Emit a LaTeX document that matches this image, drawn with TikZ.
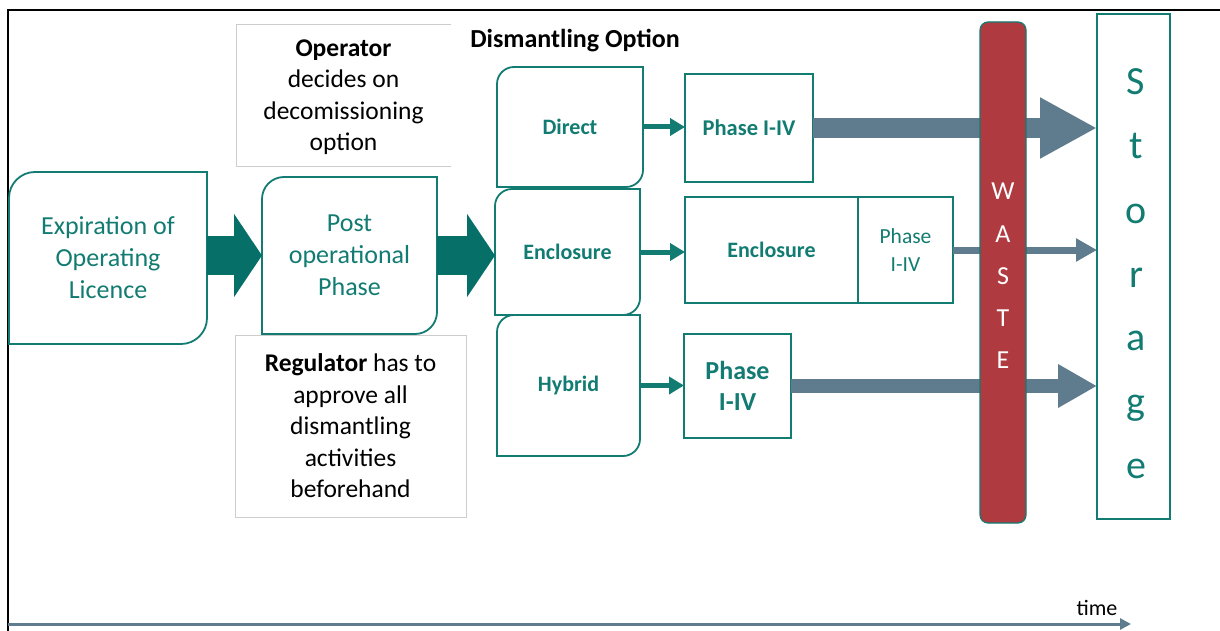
\documentclass[tikz,border=0pt]{standalone}
\usepackage{fontspec}
\setmainfont{Carlito}
\usetikzlibrary{arrows.meta,calc}
\definecolor{tealc}{RGB}{18,124,114}
\definecolor{bigteal}{RGB}{6,112,104}
\definecolor{grayblue}{RGB}{95,123,142}
\definecolor{wastered}{RGB}{175,58,64}
\definecolor{lightgraybox}{RGB}{205,205,205}
\newcommand\fsz[2]{\fontsize{#1}{#2}\selectfont}
\newcommand\halfround[2]{\draw[tealc, line width=1.8pt] (#1.west) [rounded corners=#2] |- (#1.north) [sharp corners] -| (#1.east) [rounded corners=#2] |- (#1.south) [sharp corners] -| (#1.west);}
\begin{document}
\begin{tikzpicture}[x=1pt,y=-1pt,
  every node/.style={inner sep=0pt, outer sep=0pt},
  blk/.style={anchor=north west},
  optbox/.style={anchor=north west, text=tealc, align=center},
  phbox/.style={anchor=north west, draw=tealc, line width=1.8pt, text=tealc, align=center},
  bigarrow/.style={bigteal, line width=39pt, -{Triangle[length=28pt,width=82pt]}},
  smallarrow/.style={tealc, line width=5pt, -{Triangle[length=15pt,width=17pt]}},
  grayarrow/.style={grayblue, line width=#1},
  gbox/.style={draw=lightgraybox, line width=0.9pt}]
\useasboundingbox (0,0) rectangle (1220,631);
\fill[white] (0,0) rectangle (1220,631);

% frame
\draw[black, line width=2pt] (8,631) -- (8,10) -- (1220,10);

% grey note boxes
\node[blk, minimum width=215pt, minimum height=142pt] (opbox) at (236,24) {};
\draw[gbox] (opbox.north east) -- (opbox.north west) -- (opbox.south west) -- (opbox.south east);
\node[font=\fsz{25.5}{31.5}, align=center] (optext) at (343.5,97) {\textbf{Operator}\\decides on\\decomissioning\\option};
\node[blk, gbox, minimum width=231pt, minimum height=182pt] (regbox) at (235,335) {};
\node[font=\fsz{25.5}{31.5}, align=center] (regtext) at (350.5,426) {\textbf{Regulator} has to\\approve all\\dismantling\\activities\\beforehand};

\node[anchor=base, font=\fsz{26}{30}\bfseries] (dismt) at (575,48) {Dismantling Option};

% main boxes
\node[optbox, font=\fsz{26}{32}, minimum width=198pt, minimum height=172pt] (exp) at (9,172) {Expiration of\\Operating\\Licence};
\halfround{exp}{26pt}
\node[optbox, font=\fsz{26}{32}, minimum width=175pt, minimum height=157pt] (post) at (262,177) {Post\\operational\\Phase};
\halfround{post}{22pt}

\node[optbox, font=\fsz{22}{26}\bfseries, minimum width=146pt, minimum height=120pt] (dir) at (497,67) {Direct};
\halfround{dir}{17pt}
\node[optbox, font=\fsz{22}{26}\bfseries, minimum width=145pt, minimum height=126pt] (enc) at (495,189) {Enclosure};
\halfround{enc}{17pt}
\node[optbox, font=\fsz{22}{26}\bfseries, minimum width=143pt, minimum height=141pt] (hyb) at (497,315) {Hybrid};
\halfround{hyb}{17pt}

\node[phbox, font=\fsz{22.5}{27}\bfseries, minimum width=128pt, minimum height=108pt] (ph1) at (685,74) {Phase I-IV};
\node[phbox, font=\fsz{22}{26}\bfseries, minimum width=173pt, minimum height=106pt] (encA) at (685,197) {Enclosure};
\node[phbox, font=\fsz{21.5}{28}, minimum width=95pt, minimum height=106pt] (encB) at (858,197) {Phase\\I-IV};
\node[phbox, font=\fsz{26}{31}\bfseries, minimum width=107pt, minimum height=104pt] (hph) at (684,334) {Phase\\I-IV};

% storage
\node[blk, draw=tealc, line width=1.5pt, minimum width=73pt, minimum height=505pt] (sto) at (1097,14) {};
\foreach \l/\yy [count=\i] in {S/95, t/159, o/223, r/287, a/350.5, g/414, e/478}
  \node[anchor=base, text=tealc, font=\fsz{40}{46}] (stl\i) at (1136,\yy) {\l};

% arrows
\draw[bigarrow] (exp.east |- post.west) -- (post.west);
\draw[bigarrow] (post.east) -- (post.east -| enc.west);
\draw[smallarrow] (dir.east) -- (dir.east -| ph1.west);
\draw[smallarrow] (enc.east) -- (enc.east -| encA.west);
\draw[smallarrow] (hyb.east) -- (hyb.east -| hph.west);

\draw[grayarrow=20pt, -{Triangle[length=57pt,width=57pt]}] (ph1.east) -- (ph1.east -| sto.west);
\draw[grayarrow=7pt, -{Triangle[length=21pt,width=22pt]}] (encB.east) -- (encB.east -| sto.west);
\draw[grayarrow=14pt, -{Triangle[length=39pt,width=41pt]}] (hph.east) -- (hph.east -| sto.west);

% waste bar
\node[blk, draw=tealc, fill=wastered, rounded corners=8pt, line width=1.2pt, minimum width=46pt, minimum height=501pt] (waste) at (980,22) {};
\foreach \l/\yy [count=\i] in {W/200, A/242, S/284, T/326, E/368}
  \node[anchor=base, text=white, font=\fsz{26}{30}] (wl\i) at (1003,\yy) {\l};

% time axis
\coordinate (t0) at (8,624);
\coordinate (t1) at (1131,624);
\draw[grayblue, line width=3pt, -{Triangle[length=11pt,width=11pt]}] (t0) -- (t1);
\node[anchor=base, font=\fsz{22}{26}] (time) at (1097,615) {time};
\end{tikzpicture}
\end{document}
